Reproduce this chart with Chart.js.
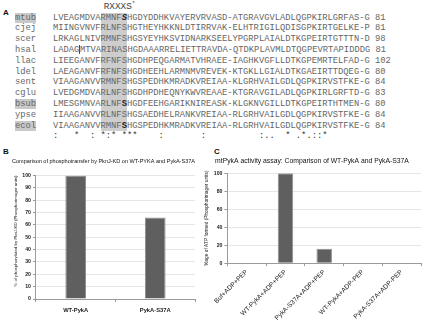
<!DOCTYPE html>
<html>
<head>
<meta charset="utf-8">
<script src="https://cdn.jsdelivr.net/npm/chart.js@4.4.1/dist/chart.umd.min.js"></script>
<style>
  html, body { margin: 0; padding: 0; background: #fff; }
  body { width: 425px; height: 320px; position: relative; overflow: hidden; font-family: "Liberation Sans", Arial, sans-serif; }
  .lbl { position: absolute; font-weight: bold; font-size: 8px; color: #111; }
  #aln { position: absolute; left: 0; top: 0; width: 425px; height: 148px; font-family: "Liberation Mono", monospace; font-size: 8.8px; color: #666; }
  #aln .row { position: absolute; height: 10px; line-height: 10px; white-space: pre; }
  #aln .hl { background: #c9c9c9; }
  #aln b { color: #222; }
  #col { position: absolute; background: #cdcdcd; }
  #motif { position: absolute; font-size: 9.4px; color: #444; white-space: pre; }
  #motif sup { font-size: 6px; }
  .cur { display: inline-block; width: 0; height: 9px; border-left: 1px solid #2050c0; vertical-align: middle; margin-left: -0.5px; }
  canvas { position: absolute; }
</style>
</head>
<body>
<div class="lbl" style="left:3px;top:8px">A</div>
<div id="aln"></div>
<div class="lbl" style="left:3px;top:147px">B</div>
<div class="lbl" style="left:214px;top:147px">C</div>
<canvas id="chartB" width="205" height="172" style="left:0px;top:150px"></canvas>
<canvas id="chartC" width="225" height="175" style="left:200px;top:150px"></canvas>
<script>
// ---- panel A: alignment around the RXXXS motif
const seqNames = ["mtub", "cjej", "scer", "hsal", "llac", "ldel", "sent", "cglu", "bsub", "ypse", "ecol"];
const seqRows = [
  "LVEAGMDVARMNFSHGDYDDHKVAYERVRVASD-ATGRAVGVLADLQGPKIRLGRFAS-G",
  "MIINGVNVFRLNFSHGTHEYHKKNLDTIRRVAK-ELHTRIGILQDISGPKIRTGELKE-P",
  "LRKAGLNIVRMNFSHGSYEYHKSVIDNARKSEELYPGRPLAIALDTKGPEIRTGTTTN-D",
  "LADAGMTVARINASHGDAAARRELIETTRAVDA-QTDKPLAVMLDTQGPEVRTAPIDDDG",
  "LIEEGANVFRFNFSHGDHPEQGARMATVHRAEE-IAGHKVGFLLDTKGPEMRTELFAD-G",
  "LAEAGANVFRFNFSHGDHEEHLARMNMVREVEK-KTGKLLGIALDTKGAEIRTTDQEG-G",
  "VIAAGANVVRMNFSHGSPEDHKMRADKVREIAA-KLGRHVAILGDLQGPKIRVSTFKE-G",
  "LVEDGMDVARLNFSHGDHPDHEQNYKWVREAAE-KTGRAVGILADLQGPKIRLGRFTD-G",
  "LMESGMNVARLNFSHGDFEEHGARIKNIREASK-KLGKNVGILLDTKGPEIRTHTMEN-G",
  "IIAAGANVVRLNFSHGSAEDHELRANKVREIAA-RLGRHVAILGDLQGPKIRVSTFKE-G",
  "VIAAGANVVRMNFSHGSPEDHKMRADKVREIAA-RLGRHVAILGDLQGPKIRVSTFKE-G"
];
const seqEnds = [81, 81, 98, 81, 102, 80, 84, 83, 80, 84, 84];
const highlightedNames = ["mtub", "bsub", "ecol"];
const boldSerine = ["mtub", "bsub", "ecol"];
const consensus = ":   *  : *:* ***    :       :          :..  * .*.::*";
const motifText = "RXXXS";
const motifStart = 9, motifLen = 5;

// ---- panel B
const bCategories = ["WT-PykA", "PykA-S37A"];
const bValues = [100, 66];
// ---- panel C
const cCategories = ["Buf+ADP+PEP", "WT-PykA+ADP+PEP", "PykA-S37A+ADP+PEP", "WT-PykA+ADP-PEP", "PykA-S37A+ADP-PEP"];
const cValues = [0, 100, 16, 0, 0];

const NAME_X = 15, SEQ_X = 53, ROW_Y = 12.5, ROW_H = 10.8;

function buildAlignment() {
  const aln = document.getElementById("aln");
  const col = document.createElement("div");
  col.id = "col";
  col.style.left = `calc(${SEQ_X}px + ${motifStart}ch)`;
  col.style.width = `${motifLen}ch`;
  col.style.top = ROW_Y + "px";
  col.style.height = (seqRows.length * ROW_H) + "px";
  aln.appendChild(col);

  const motif = document.createElement("div");
  motif.id = "motif";
  motif.style.left = `calc(${SEQ_X}px + ${motifStart}ch)`;
  motif.style.top = "0px";
  motif.innerHTML = motifText + "<sup>*</sup>";
  aln.appendChild(motif);

  seqRows.forEach((seq, i) => {
    const name = seqNames[i];
    const top = ROW_Y + i * ROW_H;
    const nm = document.createElement("div");
    nm.className = "row";
    nm.style.left = NAME_X + "px";
    nm.style.top = top + "px";
    nm.innerHTML = highlightedNames.includes(name) ? `<span class="hl">${name}</span>` : name;
    aln.appendChild(nm);

    let html = seq;
    const s = motifStart + motifLen - 1;
    if (boldSerine.includes(name)) {
      const italic = name === "mtub";
      html = seq.slice(0, s) + (italic ? "<b><i>" : "<b>") + seq[s] + (italic ? "</i></b>" : "</b>") + seq.slice(s + 1);
    }
    if (name === "hsal") {
      html = seq.slice(0, 5) + '<span class="cur"></span>' + seq.slice(5);
    }
    const row = document.createElement("div");
    row.className = "row";
    row.style.left = SEQ_X + "px";
    row.style.top = top + "px";
    row.innerHTML = html + " " + seqEnds[i];
    aln.appendChild(row);
  });

  const cons = document.createElement("div");
  cons.className = "row";
  cons.style.left = SEQ_X + "px";
  cons.style.top = (ROW_Y + seqRows.length * ROW_H) + "px";
  cons.style.color = "#333";
  cons.textContent = consensus;
  aln.appendChild(cons);
}
buildAlignment();

Chart.defaults.font.family = '"Liberation Sans", Arial, sans-serif';
Chart.defaults.color = "#222";

function makeBarChart(id, labels, values, cfg) {
  return new Chart(document.getElementById(id), {
    type: "bar",
    data: {
      labels: labels,
      datasets: [{
        data: values,
        backgroundColor: "#5f5f5f",
        borderColor: "#8d8d8d",
        borderWidth: 1,
        barPercentage: cfg.barPct,
        categoryPercentage: 1,
      }],
    },
    options: {
      responsive: false,
      animation: false,
      devicePixelRatio: 1,
      layout: { padding: cfg.padding },
      plugins: {
        legend: { display: false },
        tooltip: { enabled: false },
        title: {
          display: true,
          text: cfg.title,
          color: "#111",
          font: { size: cfg.titleSize, weight: "normal" },
          padding: cfg.titlePad,
        },
      },
      scales: {
        x: {
          grid: { display: true, drawOnChartArea: false, drawTicks: true, tickLength: 3, color: "#9a9a9a", offset: true },
          border: { color: "#9a9a9a" },
          ticks: {
            font: { size: cfg.xFont, weight: cfg.xWeight },
            color: "#222",
            padding: cfg.xPad,
            minRotation: cfg.rot,
            maxRotation: cfg.rot,
            autoSkip: false,
          },
        },
        y: {
          min: 0,
          max: 100,
          ticks: { stepSize: cfg.step, font: { size: 5.2, weight: "bold" }, color: "#222", padding: 2 },
          grid: { color: "#e6e6e6", tickColor: "#9a9a9a", tickLength: 3 },
          border: { color: "#9a9a9a" },
          title: {
            display: true,
            text: cfg.yTitle,
            color: "#222",
            align: cfg.yAlign,
            font: { size: cfg.yTitleSize },
            padding: { top: 1, bottom: 2 },
          },
        },
      },
    },
  });
}

makeBarChart("chartB", bCategories, bValues, {
  title: "Comparison of phosphotransfer by PknJ-KD on WT-PYKA and PykA-S37A",
  titleSize: 6.2,
  titlePad: { top: 8, bottom: 10 },
  padding: { left: 12, right: 10, top: 0, bottom: 3 },
  barPct: 0.26,
  xFont: 5.8, xWeight: "bold", xPad: 5, rot: 0,
  step: 10,
  yTitle: "% of phosphorylated by PknJ-KD (Phosphorimager units)",
  yTitleSize: 4.4,
  yAlign: "end",
});

makeBarChart("chartC", cCategories, cValues, {
  title: "mtPykA activity assay: Comparison of WT-PykA and PykA-S37A",
  titleSize: 6.8,
  titlePad: { top: 7, bottom: 8 },
  padding: { left: 3, right: 4, top: 0, bottom: 1 },
  barPct: 0.4,
  xFont: 6.6, xWeight: "normal", xPad: 2, rot: 45,
  step: 20,
  yTitle: "%age of ATP formed (Phosphorimager units)",
  yTitleSize: 4.8,
  yAlign: "center",
});
</script>
</body>
</html>
